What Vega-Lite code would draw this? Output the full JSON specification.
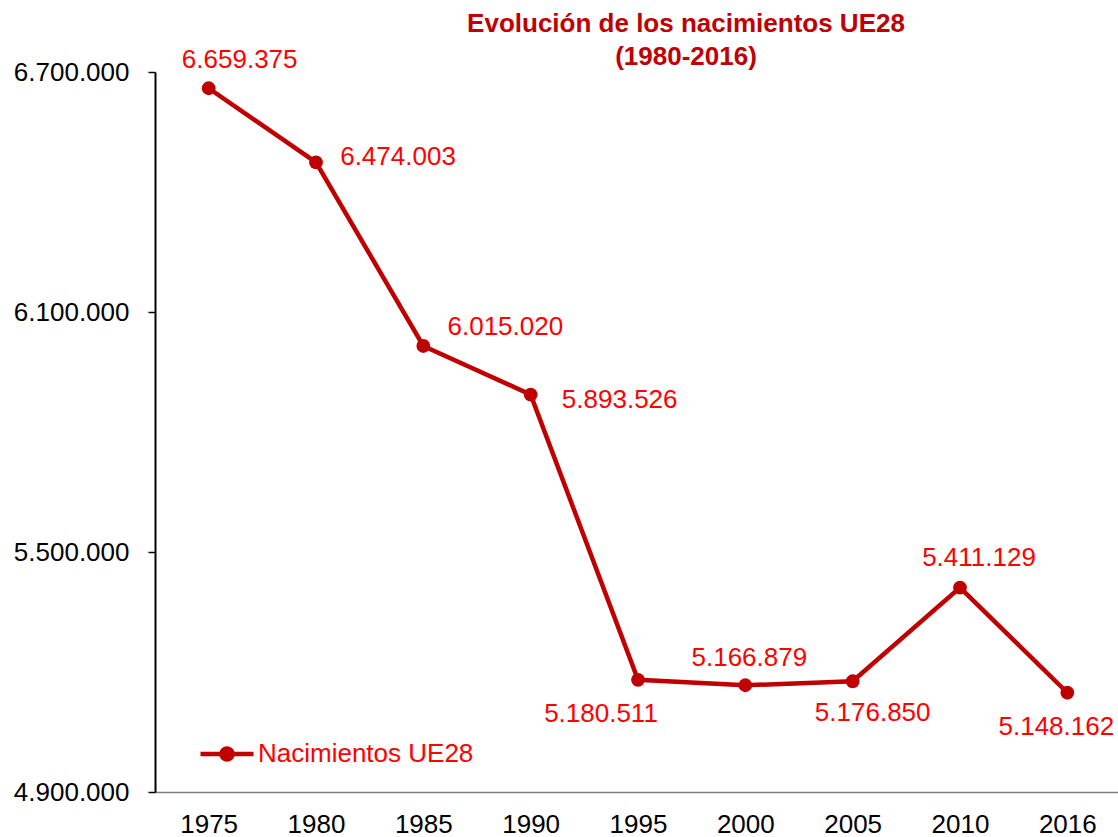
{
  "$schema": "https://vega.github.io/schema/vega-lite/v6.json",
  "width": 966,
  "height": 720,
  "autosize": "none",
  "padding": {"left": 155, "top": 72, "right": 0, "bottom": 45},
  "config": {
    "locale": {"number": {"decimal": ",", "thousands": ".", "grouping": [3], "currency": ["", " €"]}},
    "font": "Arial",
    "view": {"stroke": null}
  },
  "title": {
    "text": ["Evolución de los nacimientos UE28", "(1980-2016)"],
    "font": "Arial",
    "fontSize": 26,
    "fontWeight": "bold",
    "color": "#C00000",
    "anchor": "middle",
    "dx": 48,
    "dy": 27,
    "offset": 4,
    "lineHeight": 33
  },
  "data": {
    "values": [
      {"year": "1975", "births": 6659375},
      {"year": "1980", "births": 6474003},
      {"year": "1985", "births": 6015020},
      {"year": "1990", "births": 5893526},
      {"year": "1995", "births": 5180511},
      {"year": "2000", "births": 5166879},
      {"year": "2005", "births": 5176850},
      {"year": "2010", "births": 5411129},
      {"year": "2016", "births": 5148162}
    ]
  },
  "encoding": {
    "x": {
      "field": "year",
      "type": "ordinal",
      "scale": {"type": "point", "padding": 0.5},
      "axis": {
        "title": null,
        "labelAngle": 0,
        "labelFont": "Arial",
        "labelFontSize": 26,
        "labelColor": "#000000",
        "labelPadding": 19,
        "ticks": false,
        "domainColor": "#808080",
        "domainWidth": 1.5
      }
    },
    "y": {
      "field": "births",
      "type": "quantitative",
      "scale": {"domain": [4900000, 6700000], "nice": false, "zero": false},
      "axis": {
        "title": null,
        "values": [4900000, 5500000, 6100000, 6700000],
        "format": ",d",
        "grid": false,
        "labelFont": "Arial",
        "labelFontSize": 26,
        "labelColor": "#000000",
        "labelPadding": 19,
        "tickSize": 7,
        "tickColor": "#000000",
        "tickWidth": 1.5,
        "domainColor": "#000000",
        "domainWidth": 2
      }
    }
  },
  "layer": [
    {
      "mark": {"type": "line", "strokeWidth": 4.5},
      "encoding": {
        "color": {
          "datum": "Nacimientos UE28",
          "scale": {"range": ["#C00000"]},
          "legend": {
            "title": null,
            "orient": "none",
            "legendX": 43,
            "legendY": 653,
            "symbolType": "M-1,0L1,0M-0.21,0A0.21,0.21,0,1,1,0.21,0A0.21,0.21,0,1,1,-0.21,0Z",
            "symbolSize": 2809,
            "symbolStrokeWidth": 4.5,
            "symbolFillColor": "#C00000",
            "symbolStrokeColor": "#C00000",
            "labelFont": "Arial",
            "labelFontSize": 26,
            "labelColor": "#FF0000",
            "labelOffset": 2,
            "labelLimit": 400
          }
        }
      }
    },
    {
      "mark": {"type": "circle", "size": 190, "opacity": 1, "color": "#C00000"}
    },
    {
      "transform": [{"filter": {"field": "year", "equal": "1975"}}],
      "mark": {"type": "text", "align": "center", "baseline": "middle", "dx": 31, "dy": -28, "fontSize": 26, "font": "Arial", "color": "#FF0000"},
      "encoding": {"text": {"field": "births", "type": "quantitative", "format": ",d"}}
    },
    {
      "transform": [{"filter": {"field": "year", "equal": "1980"}}],
      "mark": {"type": "text", "align": "center", "baseline": "middle", "dx": 82, "dy": -5, "fontSize": 26, "font": "Arial", "color": "#FF0000"},
      "encoding": {"text": {"field": "births", "type": "quantitative", "format": ",d"}}
    },
    {
      "transform": [{"filter": {"field": "year", "equal": "1985"}}],
      "mark": {"type": "text", "align": "center", "baseline": "middle", "dx": 82, "dy": -19, "fontSize": 26, "font": "Arial", "color": "#FF0000"},
      "encoding": {"text": {"field": "births", "type": "quantitative", "format": ",d"}}
    },
    {
      "transform": [{"filter": {"field": "year", "equal": "1990"}}],
      "mark": {"type": "text", "align": "center", "baseline": "middle", "dx": 89, "dy": 5, "fontSize": 26, "font": "Arial", "color": "#FF0000"},
      "encoding": {"text": {"field": "births", "type": "quantitative", "format": ",d"}}
    },
    {
      "transform": [{"filter": {"field": "year", "equal": "1995"}}],
      "mark": {"type": "text", "align": "center", "baseline": "middle", "dx": -37, "dy": 34, "fontSize": 26, "font": "Arial", "color": "#FF0000"},
      "encoding": {"text": {"field": "births", "type": "quantitative", "format": ",d"}}
    },
    {
      "transform": [{"filter": {"field": "year", "equal": "2000"}}],
      "mark": {"type": "text", "align": "center", "baseline": "middle", "dx": 4, "dy": -27, "fontSize": 26, "font": "Arial", "color": "#FF0000"},
      "encoding": {"text": {"field": "births", "type": "quantitative", "format": ",d"}}
    },
    {
      "transform": [{"filter": {"field": "year", "equal": "2005"}}],
      "mark": {"type": "text", "align": "center", "baseline": "middle", "dx": 20, "dy": 32, "fontSize": 26, "font": "Arial", "color": "#FF0000"},
      "encoding": {"text": {"field": "births", "type": "quantitative", "format": ",d"}}
    },
    {
      "transform": [{"filter": {"field": "year", "equal": "2010"}}],
      "mark": {"type": "text", "align": "center", "baseline": "middle", "dx": 19, "dy": -30, "fontSize": 26, "font": "Arial", "color": "#FF0000"},
      "encoding": {"text": {"field": "births", "type": "quantitative", "format": ",d"}}
    },
    {
      "transform": [{"filter": {"field": "year", "equal": "2016"}}],
      "mark": {"type": "text", "align": "center", "baseline": "middle", "dx": -11, "dy": 34, "fontSize": 26, "font": "Arial", "color": "#FF0000"},
      "encoding": {"text": {"field": "births", "type": "quantitative", "format": ",d"}}
    }
  ]
}
